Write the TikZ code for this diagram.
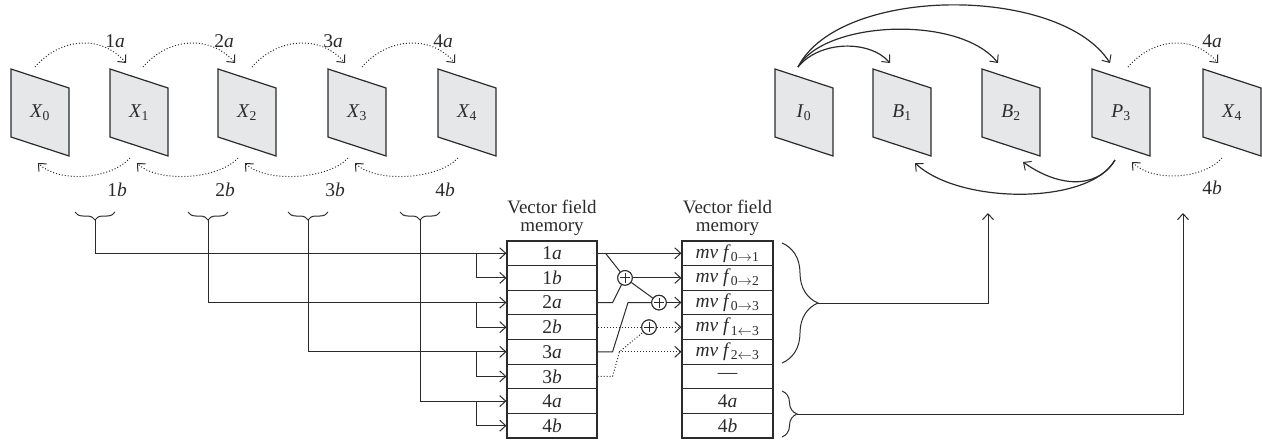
\documentclass[tikz,border=0pt]{standalone}
\usepackage{fontspec}
\setmainfont{Liberation Serif}
\usetikzlibrary{arrows.meta,decorations.pathreplacing,calc}
\definecolor{ink}{HTML}{2B2B2B}
\definecolor{panefill}{HTML}{E6E7E8}
\newcommand{\mysub}[1]{\textsubscript{#1}}
\newcommand{\myra}{$\rightarrow$}
\newcommand{\myla}{$\leftarrow$}
\newcommand{\pane}[3]{%
  \draw[panestyle] (#1-29,69) -- (#1+29,88) -- (#1+29,156) -- (#1-29,137) -- cycle;
  \node[plabel] (#2) at (#1,113) {#3};}
\begin{document}
\begin{tikzpicture}[x=1pt,y=-1pt,
  font=\fontsize{19.5}{22}\selectfont,
  every node/.style={text=ink},
  panestyle/.style={draw=ink, fill=panefill, line width=1.2pt, line join=miter},
  plabel/.style={inner sep=0pt},
  lab/.style={inner sep=0pt},
  tip/.style={-{Straight Barb[length=6pt,width=11pt,line width=1pt]}},
  conn/.style={draw=ink, line width=1pt},
  arr/.style={conn, tip},
  dots/.style={draw=ink, line width=1pt, dash pattern=on 1pt off 2pt},
  dotarr/.style={dots, tip},
  curvarr/.style={draw=ink, line width=1.2pt, tip},
  cell/.style={draw=ink, line width=1.1pt, minimum width=90pt, minimum height=24.625pt, inner sep=0pt},
  oplus/.style={circle, draw=ink, line width=1pt, fill=white, minimum size=14.6pt, inner sep=0pt,
    path picture={\draw[ink, line width=0.9pt]
      ([xshift=-5pt]path picture bounding box.center) -- ([xshift=5pt]path picture bounding box.center)
      ([yshift=-5pt]path picture bounding box.center) -- ([yshift=5pt]path picture bounding box.center);}},
  brsmall/.style={draw=ink, line width=1pt, decorate, decoration={brace, amplitude=8pt}},
]
\useasboundingbox (0,0) rectangle (1262,444);

% ---------- left row of frames ----------
\pane{40}{X0}{\textit{X}\mysub{0}}
\pane{139}{X1}{\textit{X}\mysub{1}}
\pane{247}{X2}{\textit{X}\mysub{2}}
\pane{357}{X3}{\textit{X}\mysub{3}}
\pane{467}{X4}{\textit{X}\mysub{4}}

% top dotted arcs (forward)
\draw[dotarr] ($(X0)+(-5,-46)$) .. controls +(25,-29) and +(-25,-29) .. ($(X1)+(-13,-50)$);
\draw[dotarr] ($(X1)+(4,-46)$) .. controls +(25,-29) and +(-25,-29) .. ($(X2)+(-12,-50)$);
\draw[dotarr] ($(X2)+(5,-46)$) .. controls +(25,-29) and +(-25,-29) .. ($(X3)+(-12,-50)$);
\draw[dotarr] ($(X3)+(5,-46)$) .. controls +(25,-29) and +(-25,-29) .. ($(X4)+(-12,-50)$);
\node[lab] (la1) at (115,41) {1\textit{a}};
\node[lab] (la2) at (224,41) {2\textit{a}};
\node[lab] (la3) at (333,41) {3\textit{a}};
\node[lab] (la4) at (443,41) {4\textit{a}};

% bottom dotted arcs (backward)
\draw[dotarr] ($(X1)+(-9,45)$) .. controls +(-20,22) and +(20,20) .. ($(X0)+(-2,50)$);
\draw[dotarr] ($(X2)+(-9,45)$) .. controls +(-20,22) and +(20,20) .. ($(X1)+(-2,50)$);
\draw[dotarr] ($(X3)+(-9,45)$) .. controls +(-20,22) and +(20,20) .. ($(X2)+(-2,50)$);
\draw[dotarr] ($(X4)+(-9,45)$) .. controls +(-20,22) and +(20,20) .. ($(X3)+(-2,50)$);
\node[lab] (lb1) at (117,190) {1\textit{b}};
\node[lab] (lb2) at (225,190) {2\textit{b}};
\node[lab] (lb3) at (335,190) {3\textit{b}};
\node[lab] (lb4) at (445,190) {4\textit{b}};

% ---------- right row of frames ----------
\pane{804}{I0}{\textit{I}\mysub{0}}
\pane{902}{B1}{\textit{B}\mysub{1}}
\pane{1011}{B2}{\textit{B}\mysub{2}}
\pane{1121}{P3}{\textit{P}\mysub{3}}
\pane{1232}{X4r}{\textit{X}\mysub{4}}

\draw[curvarr] ($(I0)+(-6,-46)$) .. controls +(22,-27) and +(-20,-23) .. ($(B1)+(-12,-50)$);
\draw[curvarr] ($(I0)+(-6,-46)$) .. controls +(27,-47) and +(-38,-48) .. ($(B2)+(-13,-50)$);
\draw[curvarr] ($(I0)+(-6,-46)$) .. controls +(42,-82) and +(-50,-78) .. ($(P3)+(-11,-50)$);
\draw[curvarr] ($(P3)+(-6,47)$) .. controls +(-20,32) and +(32,23) .. ($(B2)+(12,49)$);
\draw[curvarr] ($(P3)+(-6,47)$) .. controls +(-25,45) and +(45,42) .. ($(B1)+(13,50)$);

\draw[dotarr] ($(P3)+(7,-46)$) .. controls +(25,-29) and +(-25,-29) .. ($(X4r)+(-14,-50)$);
\draw[dotarr] ($(X4r)+(-10,45)$) .. controls +(-20,22) and +(20,20) .. ($(P3)+(11,49)$);
\node[lab] (ra4) at (1212,41) {4\textit{a}};
\node[lab] (rb4) at (1212,188) {4\textit{b}};

% ---------- memory tables ----------
\node[anchor=south, inner sep=0pt, align=center, font=\fontsize{19}{18}\selectfont] (H1) at (552,236) {Vector field\\memory};
\node[anchor=south, inner sep=0pt, align=center, font=\fontsize{19}{18}\selectfont] (H2) at (727.5,236) {Vector field\\memory};

\node[cell] (L1) at (552,253.3) {1\textit{a}};
\node[cell] (L2) at (552,277.9) {1\textit{b}};
\node[cell] (L3) at (552,302.6) {2\textit{a}};
\node[cell] (L4) at (552,327.2) {2\textit{b}};
\node[cell] (L5) at (552,351.8) {3\textit{a}};
\node[cell] (L6) at (552,376.4) {3\textit{b}};
\node[cell] (L7) at (552,401.1) {4\textit{a}};
\node[cell] (L8) at (552,425.7) {4\textit{b}};

\node[cell, minimum width=91pt] (R1) at (727.5,253.3) {\textit{mv f}\mysub{0\myra1}};
\node[cell, minimum width=91pt] (R2) at (727.5,277.9) {\textit{mv f}\mysub{0\myra2}};
\node[cell, minimum width=91pt] (R3) at (727.5,302.6) {\textit{mv f}\mysub{0\myra3}};
\node[cell, minimum width=91pt] (R4) at (727.5,327.2) {\textit{mv f}\mysub{1\myla3}};
\node[cell, minimum width=91pt] (R5) at (727.5,351.8) {\textit{mv f}\mysub{2\myla3}};
\node[cell, minimum width=91pt] (R6) at (727.5,376.4) {\textemdash};
\node[cell, minimum width=91pt] (R7) at (727.5,401.1) {4\textit{a}};
\node[cell, minimum width=91pt] (R8) at (727.5,425.7) {4\textit{b}};

% ---------- braces and feeds into left table ----------
\draw[brsmall] (115,212) -- (75,212);
\draw[brsmall] (228,212) -- (188,212);
\draw[brsmall] (328,212) -- (288,212);
\draw[brsmall] (440,212) -- (400,212);
\coordinate (t1) at (95,220);
\coordinate (t2) at (208,220);
\coordinate (t3) at (308,220);
\coordinate (t4) at (420,220);
\coordinate (j1) at ($(L1.west)+(-30,0)$);
\coordinate (j2) at ($(L3.west)+(-30,0)$);
\coordinate (j3) at ($(L5.west)+(-30,0)$);
\coordinate (j4) at ($(L7.west)+(-30,0)$);
\draw[arr] (t1) |- (L1.west);
\draw[arr] (t2) |- (L3.west);
\draw[arr] (t3) |- (L5.west);
\draw[arr] (t4) |- (L7.west);
\draw[arr] (j1) |- (L2.west);
\draw[arr] (j2) |- (L4.west);
\draw[arr] (j3) |- (L6.west);
\draw[arr] (j4) |- (L8.west);

% ---------- adders ----------
\node[oplus] (p1) at (625,277.9) {};
\node[oplus] (p2) at (659,302.6) {};
\node[oplus] (p3) at (649,327.2) {};

\draw[arr] (L1.east) -- (R1.west);
\draw[conn] ($(L1.east)+(8,0)$) -- (p1);
\draw[conn] (L3.east) -- ++(15,0) -- (p1);
\draw[arr] (p1) -- (R2.west);
\draw[conn] (p1) -- (p2);
\draw[conn] (L5.east) -- ++(15,0) -- ($(p2)+(-31,0)$) -- (p2);
\draw[arr] (p2) -- (R3.west);
\draw[dots] (L4.east) -- (p3);
\draw[dotarr] (p3) -- (R4.west);
\draw[dots] (L6.east) -- ++(15,0) -- ($(R5.west)+(-62,0)$) coordinate (k) -- (p3);
\draw[dotarr] (k) -- (R5.west);
\node[oplus] at (p1) {};
\node[oplus] at (p2) {};
\node[oplus] at (p3) {};

% ---------- right braces and outputs ----------
\draw[draw=ink, line width=1pt, decorate, decoration={brace, amplitude=36pt}] (782,243) -- (782,363);
\draw[draw=ink, line width=1pt, decorate, decoration={brace, amplitude=15pt}] (782,391) -- (782,437);
\coordinate (rt1) at (818,303);
\coordinate (rt2) at (797,414);
\coordinate (up1) at (988,213);
\coordinate (up2) at (1183,213);
\draw[arr] (rt1) -| (up1);
\draw[arr] (rt2) -| (up2);
\end{tikzpicture}
\end{document}
